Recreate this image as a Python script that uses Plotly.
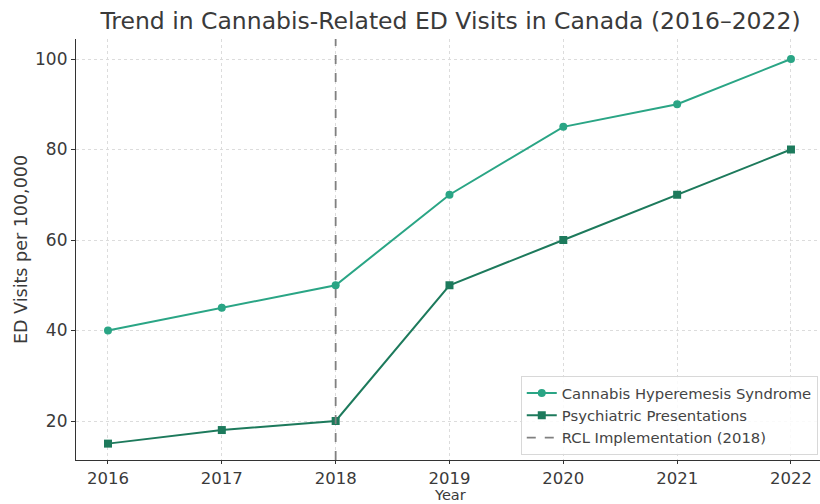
import plotly.graph_objects as go

years = [2016, 2017, 2018, 2019, 2020, 2021, 2022]
chs = [40, 45, 50, 70, 85, 90, 100]
psych = [15, 18, 20, 50, 60, 70, 80]
rcl_year = 2018
y_range = [11.38, 104.42]
x_range = [2015.719, 2022.255]

chs_color = "#2aa585"
psych_color = "#1d7a5c"

fig = go.Figure()
fig.add_trace(go.Scatter(x=years, y=chs, mode="lines+markers", name="Cannabis Hyperemesis Syndrome",
                         line=dict(color=chs_color, width=2), marker=dict(symbol="circle", size=8, color=chs_color)))
fig.add_trace(go.Scatter(x=years, y=psych, mode="lines+markers", name="Psychiatric Presentations",
                         line=dict(color=psych_color, width=2), marker=dict(symbol="square", size=8, color=psych_color)))
fig.add_trace(go.Scatter(x=[rcl_year, rcl_year], y=y_range, mode="lines", name="RCL Implementation (2018)",
                         line=dict(color="#808080", width=1.8, dash="dash")))

font_family = "DejaVu Sans, sans-serif"
fig.update_layout(
    width=820, height=504,
    margin=dict(l=76, r=0, t=39, b=44),
    paper_bgcolor="white", plot_bgcolor="white",
    font=dict(family=font_family, color="#3a3a3a"),
    title=dict(text="Trend in Cannabis-Related ED Visits in Canada (2016\u20132022)",
               x=(76 + 825) / 2 / 820, xanchor="center", y=0.958, yanchor="middle",
               font=dict(size=23.5, color="#3a3a3a")),
    legend=dict(x=0.997, xanchor="right", y=0.012, yanchor="bottom",
                bgcolor="rgba(255,255,255,0.85)", bordercolor="#d8d8d8", borderwidth=1,
                font=dict(size=14.8, color="#444444"), tracegroupgap=0, itemwidth=30),
    showlegend=True,
    annotations=[dict(text="Year", xref="paper", yref="paper", x=(450 - 76) / 744, y=-(504 - 460) / 421,
                      xanchor="center", yanchor="bottom", showarrow=False, borderpad=0,
                      font=dict(size=14.5, color="#3a3a3a"))],
)
fig.update_xaxes(range=x_range, tickvals=years, ticktext=[str(y) for y in years],
                 showline=True, linecolor="#333333", linewidth=1.2, mirror=False,
                 ticks="outside", ticklen=3, tickcolor="#333333",
                 showgrid=True, gridcolor="#dcdcdc", griddash="dot", gridwidth=1,
                 zeroline=False, tickfont=dict(size=16.5))
fig.update_yaxes(range=y_range, tickvals=[20, 40, 60, 80, 100],
                 showline=True, linecolor="#333333", linewidth=1.2, mirror=False,
                 ticks="outside", ticklen=4, tickcolor="#333333",
                 showgrid=True, gridcolor="#dcdcdc", griddash="dot", gridwidth=1,
                 zeroline=False, tickfont=dict(size=17),
                 title=dict(text="ED Visits per 100,000", font=dict(size=17.5), standoff=2))

fig.write_html("out.html")
